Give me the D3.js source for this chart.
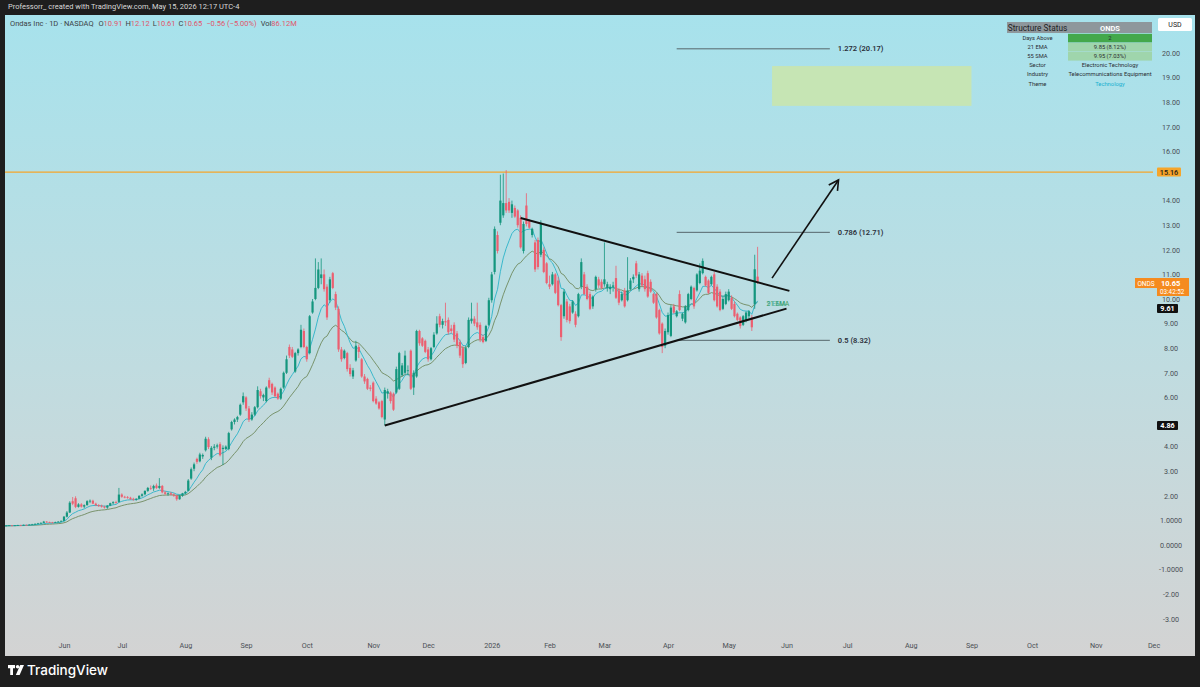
<!DOCTYPE html>
<html lang="en">
<head>
<meta charset="UTF-8">
<title>Ondas Inc - 1D - NASDAQ</title>
<script src="https://d3js.org/d3.v7.min.js"></script>
<style>
  body { margin: 0; background: #1e1e1e; overflow: hidden; }
  svg { display: block; font-family: "Roboto", "Noto Sans", sans-serif; }
</style>
</head>
<body>
<svg id="chart" width="1200" height="687"></svg>
<script>
// daily candles [open, high, low, close], one array per month
const may25 = [
  [0.78,0.80,0.76,0.78],[0.78,0.80,0.77,0.79],[0.79,0.81,0.78,0.80],[0.80,0.81,0.78,0.79],[0.79,0.81,0.78,0.80],
  [0.80,0.82,0.79,0.81],[0.81,0.82,0.79,0.80],[0.80,0.83,0.79,0.82],[0.82,0.83,0.80,0.81],[0.81,0.84,0.80,0.83],
  [0.83,0.86,0.82,0.84],[0.84,0.88,0.83,0.86],[0.86,0.90,0.85,0.88],[0.88,0.92,0.87,0.90],[0.90,0.98,0.89,0.95],
  [0.95,0.97,0.91,0.93],[0.93,0.95,0.90,0.92],[0.92,0.94,0.88,0.90],[0.90,0.95,0.89,0.93],[0.93,0.97,0.92,0.95],
  [0.95,1.00,0.93,0.98]
];
const jun25 = [
  [0.98,1.18,0.96,1.15],[1.15,1.38,1.12,1.32],[1.32,1.78,1.30,1.72],[1.78,1.95,1.62,1.68],[1.90,1.98,1.50,1.55],
  [1.55,1.70,1.52,1.65],[1.65,1.70,1.52,1.56],[1.56,1.65,1.50,1.62],[1.62,1.82,1.60,1.78],[1.78,1.85,1.70,1.80],
  [1.80,1.84,1.66,1.68],[1.68,1.72,1.58,1.62],[1.62,1.66,1.55,1.58],[1.60,1.64,1.52,1.56],[1.56,1.60,1.48,1.52],
  [1.52,1.62,1.47,1.60],[1.60,1.72,1.58,1.70],[1.70,1.78,1.65,1.74],[1.74,1.80,1.68,1.72],[1.75,2.32,1.72,2.05]
];
const jul25 = [
  [2.05,2.10,1.92,1.96],[1.96,2.00,1.90,1.94],[1.95,1.99,1.88,1.92],[1.92,1.96,1.84,1.86],[1.88,1.92,1.80,1.84],
  [1.84,1.90,1.80,1.88],[1.88,2.02,1.86,2.00],[2.00,2.10,1.96,2.06],[2.06,2.22,2.02,2.20],[2.20,2.36,2.16,2.32],
  [2.32,2.42,2.24,2.30],[2.30,2.45,2.20,2.40],[2.42,2.50,2.28,2.32],[2.32,2.72,2.28,2.40],[2.40,2.44,2.10,2.14],
  [2.14,2.20,2.04,2.08],[2.08,2.14,2.00,2.10],[2.10,2.16,2.02,2.05],[2.05,2.10,1.96,2.00],[2.00,2.04,1.80,1.86],
  [1.86,2.04,1.84,2.00],[2.00,2.12,1.96,2.10]
];
const aug25 = [
  [2.10,2.20,2.06,2.16],[2.20,2.68,2.18,2.62],[2.70,3.15,2.65,3.08],[3.10,3.35,3.00,3.28],[3.50,3.55,3.30,3.38],
  [3.40,3.75,3.36,3.68],[3.60,3.72,3.50,3.66],[3.85,4.40,3.80,4.32],[4.30,4.38,3.90,3.98],[3.55,4.02,3.45,3.95],
  [3.95,4.10,3.85,4.00],[4.00,4.12,3.92,4.05],[4.10,4.18,3.60,3.65],[3.90,4.05,3.25,3.95],[3.90,4.05,3.85,4.00],
  [3.90,4.60,3.85,4.55],[4.70,5.05,4.65,5.00],[5.00,5.15,4.90,5.10],[5.10,5.25,5.00,5.20],[5.30,5.75,5.25,5.70],
  [5.80,6.20,5.70,6.05]
];
const sep25 = [
  [6.00,6.05,5.45,5.55],[5.55,5.65,5.00,5.10],[5.10,5.40,5.05,5.30],[5.30,5.65,5.25,5.60],[5.60,6.45,5.55,6.30],
  [6.25,6.35,5.95,6.05],[6.00,6.15,5.85,6.10],[5.85,6.45,5.80,6.40],[6.70,6.80,6.35,6.40],[6.55,6.60,6.10,6.20],
  [6.40,6.45,6.00,6.05],[6.15,6.20,5.90,5.95],[5.95,6.40,5.90,6.35],[6.40,7.05,6.35,7.00],[7.00,7.70,6.95,7.55],
  [8.05,8.15,7.60,7.70],[7.95,8.05,7.60,7.65],[7.05,7.85,7.00,7.80],[7.80,8.00,7.70,7.95],[8.05,8.95,8.00,8.75],
  [8.70,8.80,8.00,8.05]
];
const oct25 = [
  [8.05,8.10,7.45,7.55],[7.80,9.35,7.75,9.30],[9.45,10.00,9.40,9.90],[10.00,11.65,9.95,10.45],[10.45,11.50,10.40,11.20],
  [10.85,11.65,10.60,11.00],[11.00,11.20,10.30,10.40],[10.50,10.60,9.15,9.25],[9.95,10.90,9.85,10.80],[11.05,11.10,10.40,10.45],
  [10.20,10.30,9.55,9.65],[9.60,9.70,7.85,7.95],[7.95,8.05,7.45,7.55],[7.60,7.95,7.55,7.90],[7.80,7.85,7.05,7.15],
  [7.20,7.35,6.85,6.95],[6.85,7.20,6.75,7.10],[7.50,8.30,7.45,8.10],[8.05,8.15,7.60,7.85],[7.55,7.60,6.80,6.85],
  [6.85,6.95,6.55,6.65],[6.75,6.80,6.30,6.35],[6.40,6.50,6.25,6.35]
];
const nov25 = [
  [6.60,6.65,5.80,5.85],[5.95,6.05,5.70,5.75],[5.80,5.85,5.50,5.55],[5.85,5.90,5.15,5.20],[5.10,6.40,4.86,6.30],
  [6.15,6.35,5.95,6.25],[6.20,6.25,5.75,5.85],[6.15,6.20,5.45,5.50],[6.20,7.25,6.15,7.15],[6.35,7.85,6.30,7.80],
  [6.90,7.40,6.85,7.30],[7.00,7.90,6.95,7.70],[7.10,7.30,6.90,7.10],[7.90,7.95,6.30,6.35],[6.40,7.10,6.10,7.00],
  [6.85,8.75,6.80,8.70],[8.70,8.75,8.10,8.20],[8.40,8.45,8.05,8.10],[8.30,8.35,7.80,7.85]
];
const dec25 = [
  [7.95,8.05,7.45,7.55],[7.55,8.05,7.50,8.00],[8.05,8.65,8.00,8.55],[8.60,9.30,8.55,9.00],[9.30,9.40,8.85,8.95],
  [8.95,9.20,8.80,9.10],[9.10,9.85,8.90,9.05],[9.15,9.25,8.55,8.65],[8.80,8.95,8.60,8.70],[8.95,9.05,8.25,8.35],
  [8.60,8.70,8.00,8.10],[8.25,8.35,7.60,7.70],[8.00,8.10,7.20,7.35],[7.40,8.10,7.35,8.00],[8.05,9.25,8.00,9.15],
  [9.10,9.85,9.00,9.20],[9.20,9.30,8.90,9.00],[9.05,9.85,8.75,8.85],[8.95,9.05,8.25,8.35],[8.45,8.55,8.20,8.25],
  [8.30,8.95,8.25,8.90],[8.95,10.05,8.90,9.95]
];
const jan26 = [
  [9.95,11.10,9.85,11.00],[11.10,12.95,11.00,12.85],[12.60,12.75,11.85,11.95],[13.10,15.05,13.00,14.00],[13.40,15.10,13.30,13.90],
  [13.90,15.24,13.50,13.60],[13.95,14.10,13.50,13.60],[13.50,14.00,13.30,13.85],[13.70,13.80,13.30,13.35],[13.60,13.65,12.90,13.00],
  [13.30,13.40,12.05,12.10],[11.95,13.15,11.85,13.05],[13.80,14.30,12.95,13.05],[13.20,13.25,12.85,12.90],[12.60,12.90,12.50,12.85],
  [12.30,12.40,11.10,11.20],[12.40,12.50,11.20,11.30],[11.80,13.20,11.70,13.05],[12.00,12.10,11.05,11.10],[11.45,11.50,10.60,10.65]
];
const feb26 = [
  [10.60,10.95,10.40,10.50],[10.60,11.10,10.55,11.00],[11.00,11.05,10.20,10.25],[10.75,10.90,9.70,9.75],[9.75,9.80,8.30,8.45],
  [9.30,10.40,9.20,10.30],[9.90,10.00,9.05,9.15],[9.70,9.80,9.00,9.10],[9.45,9.95,9.40,9.90],[9.40,9.50,8.85,8.95],
  [9.30,10.25,9.25,10.20],[10.50,11.65,10.40,11.50],[11.00,11.10,10.15,10.20],[10.50,10.60,9.95,10.00],[10.20,10.30,9.55,9.60],
  [9.70,10.15,9.60,10.10],[10.40,10.95,10.30,10.90],[10.80,10.90,10.45,10.55],[10.70,10.80,10.40,10.45]
];
const mar26 = [
  [10.60,12.30,10.50,10.80],[10.45,10.70,10.30,10.60],[10.40,10.60,10.20,10.50],[10.50,10.70,10.30,10.55],[10.85,11.35,10.00,10.05],
  [10.35,10.45,9.75,9.85],[9.95,10.30,9.90,10.20],[10.35,10.45,9.65,9.70],[9.95,11.70,9.90,10.35],[10.40,10.85,10.35,10.75],
  [10.80,11.00,10.65,10.90],[11.45,11.55,10.85,10.95],[10.40,11.10,10.30,11.00],[10.95,11.05,10.50,10.55],[10.80,10.95,10.30,10.40],
  [11.05,11.15,10.05,10.10],[10.70,10.80,10.25,10.30],[10.20,10.25,9.80,9.85],[10.20,10.25,9.20,9.25],[9.55,9.60,8.55,8.60],
  [9.00,9.05,7.80,8.05],[8.10,8.80,8.00,8.70]
];
const apr26 = [
  [8.65,9.45,8.55,9.35],[8.50,9.75,8.45,9.65],[9.70,9.80,9.40,9.45],[9.30,9.55,9.25,9.50],[10.20,10.35,9.50,9.55],
  [9.20,9.45,9.10,9.40],[9.05,9.75,9.00,9.70],[9.55,10.25,9.50,10.20],[10.00,10.55,9.95,10.50],[10.45,10.50,9.60,9.70],
  [10.35,11.05,10.30,11.00],[10.65,11.45,10.60,11.15],[11.05,11.65,11.00,11.55],[10.90,10.95,10.50,10.55],[10.75,10.80,10.20,10.25],
  [10.60,10.95,10.55,10.90],[11.00,11.10,9.90,9.95],[10.50,10.60,9.65,9.70],[10.30,10.40,9.50,9.55],[9.60,10.10,9.55,10.00],
  [9.80,10.30,9.75,10.20]
];
const may26 = [
  [9.95,10.40,9.90,10.30],[10.05,10.15,9.55,9.60],[9.80,9.90,9.25,9.30],[9.40,9.45,9.10,9.15],[9.25,9.30,8.80,8.90],
  [8.95,9.35,8.90,9.30],[9.15,9.50,9.05,9.45],[9.30,9.55,9.20,9.50],[9.25,9.35,8.70,8.85],[9.80,11.80,9.60,11.21],
  [10.91,12.12,10.61,10.65]
];

const firstDay = "2025-05-01";
const lastDay = "2026-12-31";
const holidays = ["2025-05-26","2025-06-19","2025-07-04","2025-09-01","2025-11-27","2025-12-25",
  "2026-01-01","2026-01-19","2026-02-16","2026-04-03","2026-05-25","2026-06-19","2026-07-03",
  "2026-09-07","2026-11-26","2026-12-25"];
const monthLabels = ["Jun","Jul","Aug","Sep","Oct","Nov","Dec","2026","Feb","Mar","Apr","May",
  "Jun","Jul","Aug","Sep","Oct","Nov","Dec"];
const priceTicks = [20,19,18,17,16,14,13,12,11,10,9,8,7,6,4,3,2,1,0,-1,-2,-3];
const priceTickLabels = ["20.00","19.00","18.00","17.00","16.00","14.00","13.00","12.00","11.00",
  "10.00","9.00","8.00","7.00","6.00","4.00","3.00","2.00","1.0000","0.0000","-1.0000","-2.00","-3.00"];

// moving average lengths (fast cyan, slow olive)
const fastLen = 9;
const slowLen = 21;

// drawings
const resistance = 15.16;
const triangleUpper = [["2026-01-16",13.29],["2026-06-02",10.33]];
const triangleLower = [["2025-11-07",4.86],["2026-06-01",9.61]];
const arrowPts = [["2026-05-22",10.85],["2026-06-26",14.84]];
const targetBox = {from:"2026-05-22", to:"2026-09-01", top:19.47, bottom:17.85};
const fibLevels = ["1.272","0.786","0.5"];
const fibPrices = [20.17,12.71,8.32];
const fibSpan = ["2026-04-07","2026-06-23"];

const tableLabels = ["Days Above","21 EMA","55 SMA","Sector","Industry","Theme"];
const tableValues = ["2","9.85 (8.12%)","9.95 (7.03%)","Electronic Technology","Telecommunications Equipment","Technology"];

// ---------- build
const bars = [].concat(may25, jun25, jul25, aug25, sep25, oct25, nov25, dec25, jan26, feb26, mar26, apr26, may26);
const closes = bars.map(d => d[3]);

// trading calendar
const hol = new Set(holidays);
const fmt = d3.utcFormat("%Y-%m-%d");
const days = d3.utcDays(new Date(firstDay + "T00:00Z"), d3.utcDay.offset(new Date(lastDay + "T00:00Z"), 1))
  .filter(d => d.getUTCDay() !== 0 && d.getUTCDay() !== 6 && !hol.has(fmt(d)));
const dayIdx = new Map(days.map((d, i) => [fmt(d), i]));
const idx = s => dayIdx.get(s);

const x = d3.scaleLinear().domain([21, 21 + 377]).range([64, 64 + 377 * 2.89]);
const y = d3.scaleLinear().domain([0, 20]).range([545, 53]);

// indicators
function emaOf(vals, n) {
  const a = 2 / (n + 1), out = [];
  vals.forEach((v, i) => out.push(i === 0 ? v : v * a + out[i - 1] * (1 - a)));
  return out;
}
const emaFast = emaOf(closes, fastLen);
const emaSlow = emaOf(closes, slowLen);

const svg = d3.select("#chart");
const defs = svg.append("defs");
const grad = defs.append("linearGradient").attr("id", "bg").attr("x1", 0).attr("y1", 0).attr("x2", 0).attr("y2", 1);
grad.append("stop").attr("offset", "0%").attr("stop-color", "#a7e2ec");
grad.append("stop").attr("offset", "55%").attr("stop-color", "#c0dce0");
grad.append("stop").attr("offset", "100%").attr("stop-color", "#d3d3d3");
defs.append("clipPath").attr("id", "plot").append("rect")
  .attr("x", 5).attr("y", 15).attr("width", 1148).attr("height", 622);

// frame
svg.append("rect").attr("width", 1200).attr("height", 687).attr("fill", "#1e1e1e");
svg.append("text").attr("x", 8).attr("y", 9).attr("fill", "#d8d8d8").attr("font-size", 7.5)
  .text("Professorr_ created with TradingView.com, May 15, 2026 12:17 UTC-4");
svg.append("rect").attr("x", 5).attr("y", 15).attr("width", 1190).attr("height", 641).attr("fill", "url(#bg)");

const plot = svg.append("g").attr("clip-path", "url(#plot)");

// target zone
plot.append("rect")
  .attr("x", x(idx(targetBox.from))).attr("y", y(targetBox.top))
  .attr("width", x(idx(targetBox.to)) - x(idx(targetBox.from)))
  .attr("height", y(targetBox.bottom) - y(targetBox.top))
  .attr("fill", "#c6e5b4");

// fib levels
fibPrices.forEach((p, i) => {
  plot.append("line").attr("x1", x(idx(fibSpan[0]))).attr("x2", x(idx(fibSpan[1])))
    .attr("y1", y(p)).attr("y2", y(p)).attr("stroke", "#56666b").attr("stroke-width", 1);
  plot.append("text").attr("x", x(idx(fibSpan[1])) + 8).attr("y", y(p) + 2.5)
    .attr("font-size", 7.5).attr("font-weight", 600).attr("fill", "#2a2e39")
    .text(`${fibLevels[i]} (${p.toFixed(2)})`);
});

// resistance line
plot.append("line").attr("x1", 5).attr("x2", 1153).attr("y1", y(resistance)).attr("y2", y(resistance))
  .attr("stroke", "#f5a62b").attr("stroke-width", 1.3);

// moving averages
const line = d3.line().x((d, i) => x(i)).y(d => y(d));
plot.append("path").attr("d", line(emaSlow)).attr("fill", "none").attr("stroke", "#6f8a5f").attr("stroke-width", 0.9);
plot.append("path").attr("d", line(emaFast)).attr("fill", "none").attr("stroke", "#2bb3c8").attr("stroke-width", 0.9);

// candles
const up = "#14967e", dn = "#ec5f70";
const cg = plot.append("g");
cg.selectAll("line").data(bars).join("line")
  .attr("x1", (d, i) => x(i)).attr("x2", (d, i) => x(i))
  .attr("y1", d => y(d[1])).attr("y2", d => y(d[2]))
  .attr("stroke", d => d[3] >= d[0] ? up : dn).attr("stroke-width", 0.8);
cg.selectAll("rect").data(bars).join("rect")
  .attr("x", (d, i) => x(i) - 1.1).attr("width", 2.2)
  .attr("y", d => y(Math.max(d[0], d[3])))
  .attr("height", d => Math.max(0.8, Math.abs(y(d[0]) - y(d[3]))))
  .attr("fill", d => d[3] >= d[0] ? up : dn);

// MA labels, drawn on top of each other as in the source
const lastI = bars.length - 1;
plot.append("text").attr("x", x(lastI) + 9).attr("y", y(9.7)).attr("font-size", 6.5)
  .attr("fill", "#3f9a55").text(`${slowLen} EMA`);
plot.append("text").attr("x", x(lastI) + 9.5).attr("y", y(9.7) - 0.5).attr("font-size", 6.5)
  .attr("fill", "#26a28a").attr("opacity", 0.75).text(`${fastLen} EMA`);

// triangle
[triangleUpper, triangleLower].forEach(t => {
  plot.append("line")
    .attr("x1", x(idx(t[0][0]))).attr("y1", y(t[0][1]))
    .attr("x2", x(idx(t[1][0]))).attr("y2", y(t[1][1]))
    .attr("stroke", "#111").attr("stroke-width", 2);
});

// arrow
const ax1 = x(idx(arrowPts[0][0])), ay1 = y(arrowPts[0][1]);
const ax2 = x(idx(arrowPts[1][0])), ay2 = y(arrowPts[1][1]);
plot.append("line").attr("x1", ax1).attr("y1", ay1).attr("x2", ax2).attr("y2", ay2)
  .attr("stroke", "#111").attr("stroke-width", 1.6);
const ang = Math.atan2(ay2 - ay1, ax2 - ax1);
const head = [ang - 0.5, ang + 0.5].map(a => [ax2 - 11 * Math.cos(a), ay2 - 11 * Math.sin(a)]);
plot.append("path").attr("d", `M${head[0]}L${ax2},${ay2}L${head[1]}`)
  .attr("fill", "none").attr("stroke", "#111").attr("stroke-width", 1.6);

// price axis
const yAxis = svg.append("g").attr("transform", "translate(1171,0)")
  .call(d3.axisRight(y).tickValues(priceTicks).tickFormat((d, i) => priceTickLabels[i]).tickSize(0).tickPadding(0));
yAxis.select(".domain").remove();
yAxis.selectAll("text").attr("text-anchor", "middle").attr("font-size", 7.2).attr("fill", "#4a4f55")
  .attr("font-family", "Roboto, sans-serif");

// time axis
const monthStarts = d3.utcMonths(new Date("2025-06-01T00:00Z"), new Date("2026-12-02T00:00Z"))
  .map(m => days.findIndex(d => d >= m));
const xAxis = svg.append("g").attr("transform", "translate(0,643)")
  .call(d3.axisBottom(x).tickValues(monthStarts).tickFormat((d, i) => monthLabels[i]).tickSize(0).tickPadding(0));
xAxis.select(".domain").remove();
xAxis.selectAll("text").attr("font-size", 7.2).attr("fill", "#4a4f55").attr("font-family", "Roboto, sans-serif");

// axis badges
function badge(yv, w, bg, fg, label, bold) {
  svg.append("rect").attr("x", 1157).attr("y", y(yv) - 4.5).attr("width", w).attr("height", 9)
    .attr("fill", bg).attr("rx", 1);
  svg.append("text").attr("x", 1157 + w / 2).attr("y", y(yv) + 2.6).attr("text-anchor", "middle")
    .attr("font-size", 7.2).attr("font-weight", bold ? 700 : 500).attr("fill", fg).text(label);
}
badge(resistance, 24, "#f6a52a", "#1a1a1a", resistance.toFixed(2), false);
badge(triangleLower[1][1], 21, "#111", "#fff", triangleLower[1][1].toFixed(2), true);
badge(triangleLower[0][1], 21, "#111", "#fff", triangleLower[0][1].toFixed(2), true);

// last price
const lastClose = closes[lastI];
const ly = y(lastClose);
svg.append("rect").attr("x", 1135).attr("y", ly - 5).attr("width", 22).attr("height", 10).attr("fill", "#f58b1f");
svg.append("text").attr("x", 1146).attr("y", ly + 2.5).attr("text-anchor", "middle").attr("font-size", 6.5)
  .attr("fill", "#fff").text("ONDS");
svg.append("rect").attr("x", 1157).attr("y", ly - 5).attr("width", 32).attr("height", 18).attr("fill", "#f58b1f");
svg.append("text").attr("x", 1161).attr("y", ly + 2.6).attr("font-size", 7.5).attr("font-weight", 700)
  .attr("fill", "#fff").text(lastClose.toFixed(2));
svg.append("text").attr("x", 1160).attr("y", ly + 10.5).attr("font-size", 6.3)
  .attr("fill", "#fff").text("03:42:52");

// USD box
svg.append("rect").attr("x", 1158).attr("y", 18).attr("width", 34).attr("height", 13).attr("fill", "#fff").attr("rx", 1.5);
svg.append("text").attr("x", 1175).attr("y", 27).attr("text-anchor", "middle").attr("font-size", 7)
  .attr("fill", "#222").text("USD");

// legend line
const lastBar = bars[lastI];
const chg = lastClose - closes[lastI - 1];
const leg = svg.append("text").attr("x", 10).attr("y", 26).attr("font-size", 7.5).attr("fill", "#3b3f45");
const red = "#e0566b";
leg.append("tspan").text("Ondas Inc · 1D · NASDAQ  ");
[["O", lastBar[0]], ["H", lastBar[1]], ["L", lastBar[2]], ["C", lastBar[3]]].forEach(([l, v]) => {
  leg.append("tspan").attr("dx", 3).text(l);
  leg.append("tspan").attr("fill", red).text(v.toFixed(2));
});
leg.append("tspan").attr("dx", 4).attr("fill", red)
  .text(`−${Math.abs(chg).toFixed(2)} (−${Math.abs(chg / closes[lastI - 1] * 100).toFixed(2)}%)`);
leg.append("tspan").attr("dx", 4).text("Vol");
leg.append("tspan").attr("fill", red).text("86.12M");

// status table
const tx0 = 1007, tx1 = 1068, tx2 = 1152;
svg.append("rect").attr("x", tx0).attr("y", 22).attr("width", tx2 - tx0).attr("height", 11).attr("fill", "#8e979c");
svg.append("text").attr("x", (tx0 + tx1) / 2).attr("y", 30.5).attr("text-anchor", "middle")
  .attr("font-size", 8.3).attr("fill", "#1f2326").text("Structure Status");
svg.append("text").attr("x", (tx1 + tx2) / 2).attr("y", 30.5).attr("text-anchor", "middle")
  .attr("font-size", 7.5).attr("font-weight", 700).attr("fill", "#fff").text("ONDS");
const cellFill = ["#43a84b", "#9fd5ac", "#9fd5ac", "none", "none", "none"];
tableLabels.forEach((l, i) => {
  const ty = 33.8 + i * 9.1;
  if (cellFill[i] !== "none")
    svg.append("rect").attr("x", tx1).attr("y", ty).attr("width", tx2 - tx1).attr("height", 8.6).attr("fill", cellFill[i]);
  svg.append("text").attr("x", (tx0 + tx1) / 2).attr("y", ty + 6.2).attr("text-anchor", "middle")
    .attr("font-size", 5.8).attr("fill", "#2a2e33").text(l);
  svg.append("text").attr("x", (tx1 + tx2) / 2).attr("y", ty + 6.2).attr("text-anchor", "middle")
    .attr("font-size", 5.8).attr("fill", i === 5 ? "#1ab0d0" : "#2a2e33").text(tableValues[i]);
});

// TradingView footer
const logo = svg.append("g").attr("transform", "translate(8,665)").attr("fill", "#fff");
logo.append("path").attr("d", "M0,0H7V3.2H5V10H2.2V3.2H0Z");
logo.append("circle").attr("cx", 9.6).attr("cy", 1.8).attr("r", 1.8);
logo.append("path").attr("d", "M12.2,0H16L11.6,10H7.8Z");
svg.append("text").attr("x", 27).attr("y", 675).attr("font-size", 13.5).attr("font-weight", 500)
  .attr("fill", "#fff").attr("font-family", "Inter, Roboto, sans-serif").text("TradingView");
</script>
</body>
</html>
